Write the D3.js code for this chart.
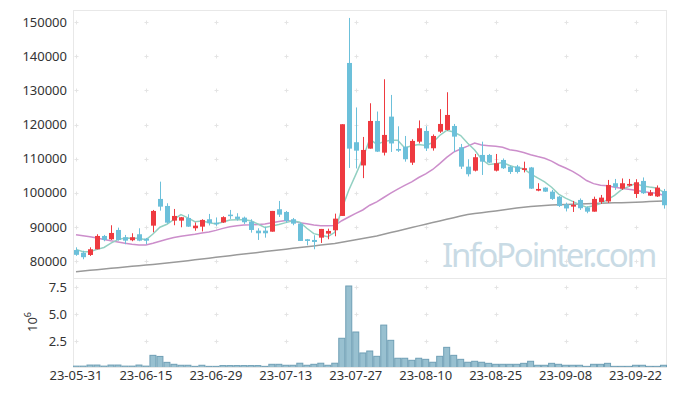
<!DOCTYPE html>
<html><head><meta charset="utf-8">
<script src="https://cdn.jsdelivr.net/npm/d3@7"></script>
<style>html,body{margin:0;padding:0;background:#fff;}svg{display:block;}</style>
</head><body>
<script>
const dates = ["23-05-31","23-06-01","23-06-02","23-06-05","23-06-07","23-06-08","23-06-09","23-06-12","23-06-13","23-06-14",
"23-06-15","23-06-16","23-06-19","23-06-20","23-06-21","23-06-22","23-06-23","23-06-26","23-06-27","23-06-28",
"23-06-29","23-06-30","23-07-03","23-07-04","23-07-05","23-07-06","23-07-07","23-07-10","23-07-11","23-07-12",
"23-07-13","23-07-14","23-07-17","23-07-18","23-07-19","23-07-20","23-07-21","23-07-24","23-07-25","23-07-26",
"23-07-27","23-07-28","23-07-31","23-08-01","23-08-02","23-08-03","23-08-04","23-08-07","23-08-08","23-08-09",
"23-08-10","23-08-11","23-08-14","23-08-16","23-08-17","23-08-18","23-08-21","23-08-22","23-08-23","23-08-24",
"23-08-25","23-08-28","23-08-29","23-08-30","23-08-31","23-09-01","23-09-04","23-09-05","23-09-06","23-09-07",
"23-09-08","23-09-11","23-09-12","23-09-13","23-09-14","23-09-15","23-09-18","23-09-19","23-09-20","23-09-21",
"23-09-22","23-09-25","23-09-26","23-09-27","23-10-04"];

const open = [83200,82400,81760,83430,87330,86360,89090,86950,86070,87830,
86540,90350,98190,96130,91820,91820,92610,89590,90060,92230,
91230,91290,93580,93000,92700,91530,88890,88890,88590,95160,
94370,92230,90940,86360,86160,86830,88010,89000,93200,138070,
114820,108010,112940,121060,111760,122330,112850,113520,108830,114990,
118130,113050,117920,118420,119590,113350,107660,106480,111090,111090,
106480,109620,107660,107720,106690,107420,100620,101500,100330,98860,
96630,95930,97890,95690,94460,97300,97450,102790,101210,102090,
99650,103470,99150,98920,100530];
const high = [84000,83000,84000,87830,87630,90470,89770,87630,88120,89590,
86750,94960,103260,96920,95250,92900,93700,91290,92230,93790,
92760,93110,94960,94000,93000,92230,89590,90060,94670,97600,
94670,92610,91230,86450,87540,89390,89470,93880,120100,151270,
125020,116370,126250,123820,133290,128690,119500,116660,115700,121210,
119500,117100,124520,129480,120180,114320,109830,111380,114990,111380,
111380,110060,107950,108160,109120,107570,102790,101620,100830,99060,
97100,97600,98330,95990,98860,99360,103760,104050,104200,104050,
103970,104490,100820,102150,101120];
const low = [81500,80500,81470,83400,85780,86160,85950,84900,85780,85780,
84900,88420,94750,90940,90470,89880,89970,88860,88650,90410,
90270,91150,92320,91820,90850,88300,86160,86830,88590,92900,
91230,90470,85870,84600,83430,85280,86360,87240,93200,107280,
107130,104290,112940,111940,110940,111970,111970,109120,108160,114460,
112260,112350,117540,118220,111970,106980,104780,106250,105220,108740,
106250,106980,105520,105660,105960,101120,100440,100240,97890,95840,
94520,94370,94960,93990,94460,96720,97010,100820,100820,101850,
98480,99650,99060,98770,95340];
const close = [81800,81100,83430,87330,86160,88210,86160,85950,86950,85950,
85950,94670,95930,91230,93200,92820,90060,90350,92030,91060,
90760,92850,93290,92320,91350,89090,88120,88120,94670,93580,
91730,90940,85870,85870,85570,89390,88800,92410,120100,112940,
112350,112560,121060,112060,116960,114460,112350,109830,115200,118920,
112990,116660,120180,122820,116460,107660,105430,110420,109120,108830,
108660,107190,106100,106100,107190,101210,101120,100330,98190,96130,
95400,96420,95460,94460,98190,98570,102290,101700,102790,102590,
103080,99860,100090,101500,96340];
// moving averages
const ma5 = [83400,82700,82700,83400,83960,85250,86260,86760,86690,86640,
86190,87890,89890,90750,92200,93570,92650,91530,91690,91260,
90850,91410,92000,92060,92110,91780,90830,89800,90270,90720,
91240,91810,91360,89600,88000,87530,87100,88410,95250,100730,
105320,110070,115800,114190,115000,115420,115380,113130,113760,114150,
113860,114720,116790,118310,117820,116760,114510,112560,109820,108290,
108490,108840,107980,107380,107050,105560,104340,103190,101610,99600,
98430,97490,96520,95770,96190,96820,97990,99240,100910,101790,
102690,102000,101680,101420,100170];
const ma20 = [87700,87400,87100,86750,86300,85900,85550,85200,84900,84700,
84650,85200,85800,86350,86850,87250,87550,87850,88200,88520,
88970,89550,90050,90300,90560,90600,90700,90810,91190,91570,
91860,91680,91170,90900,90520,90350,90290,90390,91800,92890,
93970,94950,96340,97330,98610,99880,101090,102180,103200,104470,
105530,106820,108530,110380,111930,112840,113670,114570,114020,113820,
113630,113360,112620,112320,111830,111170,110610,110130,109280,108140,
107260,106250,105010,103590,102680,102230,102070,101630,101320,101010,
100730,100360,100060,99830,99290];
const ma120 = [76860,77070,77240,77450,77620,77830,78000,78210,78420,78590,
78800,78970,79180,79410,79620,79850,80090,80320,80590,80820,
81060,81290,81530,81790,82020,82260,82490,82760,82990,83230,
83460,83700,83930,84160,84400,84660,84900,85130,85510,85870,
86250,86600,86980,87330,87830,88330,88800,89300,89800,90290,
90760,91260,91730,92200,92670,93170,93640,93900,94170,94400,
94670,94960,95220,95520,95780,95960,96100,96280,96420,96510,
96570,96660,96720,96780,96840,96920,96980,97040,97100,97160,
97220,97300,97420,97510,97600];
// volume, millions of shares
const volume = [0.2,0.2,0.3,0.3,0.2,0.3,0.3,0.2,0.2,0.3,
0.2,1.2,1.1,0.55,0.37,0.28,0.28,0.18,0.28,0.18,
0.18,0.25,0.25,0.25,0.25,0.25,0.25,0.18,0.37,0.37,
0.28,0.28,0.47,0.28,0.37,0.47,0.28,0.47,2.78,7.62,
3.36,1.42,1.6,1.11,4.0,2.59,0.93,0.93,0.74,0.93,
0.83,0.56,1.11,1.94,1.2,0.83,0.56,0.65,0.56,0.46,
0.37,0.37,0.37,0.37,0.46,0.65,0.28,0.28,0.46,0.37,
0.28,0.28,0.28,0.18,0.37,0.37,0.46,0.18,0.18,0.18,
0.28,0.28,0.18,0.18,0.28];
const priceTicks = [80000,90000,100000,110000,120000,130000,140000,150000];
const volTicks = [2.5,5.0,7.5];
const xTickIdx = [0,10,20,30,40,50,60,70,80];

const W = 677, H = 396;
const L = 73, R = 667, PT = 10, PB = 278, VB = 367;
const UP = "#ee3a40", DOWN = "#6cc0da";
const FONT = "'Noto Sans', 'DejaVu Sans', sans-serif";

const svg = d3.select("body").append("svg").attr("width", W).attr("height", H)
  .style("font-family", FONT);

const idx = d3.range(dates.length);
const x = d3.scaleBand().domain(idx).range([72.5, 667]).padding(0);
const cx = i => x(i) + x.bandwidth() / 2;
const y = d3.scaleLinear().domain([75000, 153600]).range([PB, PT]);
const yv = d3.scaleLinear().domain([0, 8.36]).range([368.3, PB]);

// frame
svg.append("rect").attr("x", L + 0.5).attr("y", PT + 0.5).attr("width", R - L - 1).attr("height", VB - PT)
  .attr("fill", "none").attr("stroke", "#e8e8e8").attr("stroke-width", 1);
svg.append("line").attr("x1", L).attr("x2", R).attr("y1", PB + 0.5).attr("y2", PB + 0.5)
  .attr("stroke", "#e8e8e8");

// grid crosses
const crossG = svg.append("g").attr("stroke", "#e4e4e4").attr("stroke-width", 1);
function cross(px, py) {
  crossG.append("line").attr("x1", px - 2).attr("x2", px + 2).attr("y1", py).attr("y2", py);
  crossG.append("line").attr("x1", px).attr("x2", px).attr("y1", py - 2).attr("y2", py + 2);
}
xTickIdx.forEach(i => {
  priceTicks.forEach(p => cross(Math.round(cx(i)) + 0.5, Math.round(y(p)) + 0.5));
  volTicks.forEach(v => cross(Math.round(cx(i)) + 0.5, Math.round(yv(v)) + 0.5));
});

// watermark
svg.append("text").attr("x", 442).attr("y", 267).text("InfoPointer.com")
  .attr("font-size", 33).attr("fill", "#c9dbe5")
  .attr("letter-spacing", -2.2)
  .style("font-family", FONT);

// clip for panels
svg.append("clipPath").attr("id", "pc").append("rect")
  .attr("x", L).attr("y", PT).attr("width", R - L).attr("height", PB - PT);
svg.append("clipPath").attr("id", "vc").append("rect")
  .attr("x", L).attr("y", PB).attr("width", R - L).attr("height", VB - PB);

const pg = svg.append("g").attr("clip-path", "url(#pc)");

// moving averages
const lineOf = arr => d3.line().x((d, i) => cx(i)).y(d => y(d))(arr);
pg.append("path").attr("d", lineOf(ma120)).attr("fill", "none").attr("stroke", "#9a9a9a").attr("stroke-width", 1.5);
pg.append("path").attr("d", lineOf(ma20)).attr("fill", "none").attr("stroke", "#cc8ecb").attr("stroke-width", 1.5);
pg.append("path").attr("d", lineOf(ma5)).attr("fill", "none").attr("stroke", "#93d0c2").attr("stroke-width", 1.5);

// candles
const cg = pg.append("g");
idx.forEach(i => {
  const up = close[i] >= open[i];
  const col = up ? UP : DOWN;
  const xc = Math.round(cx(i)) + 0.5;
  cg.append("line").attr("x1", xc).attr("x2", xc).attr("y1", y(high[i])).attr("y2", y(low[i]))
    .attr("stroke", col).attr("stroke-width", 1);
  const top = y(Math.max(open[i], close[i])), bot = y(Math.min(open[i], close[i]));
  cg.append("rect").attr("x", xc - 2.5).attr("y", top).attr("width", 5)
    .attr("height", Math.max(1.5, bot - top)).attr("fill", col);
});

// volume
const vg = svg.append("g").attr("clip-path", "url(#vc)");
vg.selectAll("rect").data(volume).join("rect")
  .attr("x", (d, i) => x(i) + 0.5).attr("width", x.bandwidth() - 1)
  .attr("y", d => yv(d)).attr("height", d => yv(0) - yv(d))
  .attr("fill", "#98c0d0").attr("stroke", "#6f9fb5").attr("stroke-width", 1);

// axes
const ya = svg.append("g").attr("transform", `translate(${L},0)`)
  .call(d3.axisLeft(y).tickValues(priceTicks).tickSize(0).tickPadding(6).tickFormat(d3.format("d")));
const yva = svg.append("g").attr("transform", `translate(${L},0)`)
  .call(d3.axisLeft(yv).tickValues(volTicks).tickSize(0).tickPadding(6).tickFormat(d3.format(".1f")));
const xa = svg.append("g").attr("transform", `translate(0,${VB})`)
  .call(d3.axisBottom(x).tickValues(xTickIdx).tickSize(0).tickPadding(4).tickFormat(i => dates[i]));
[ya, yva, xa].forEach(g => {
  g.select(".domain").remove();
  g.selectAll("text").attr("fill", "#333").attr("font-size", 13).style("font-family", FONT);
});

// 10^6 label
const lab = svg.append("text").attr("transform", "translate(37,322) rotate(-90)")
  .attr("text-anchor", "middle").attr("fill", "#333").attr("font-size", 13);
lab.append("tspan").text("10");
lab.append("tspan").text("6").attr("font-size", 9).attr("dy", -6);
</script>
</body></html>
